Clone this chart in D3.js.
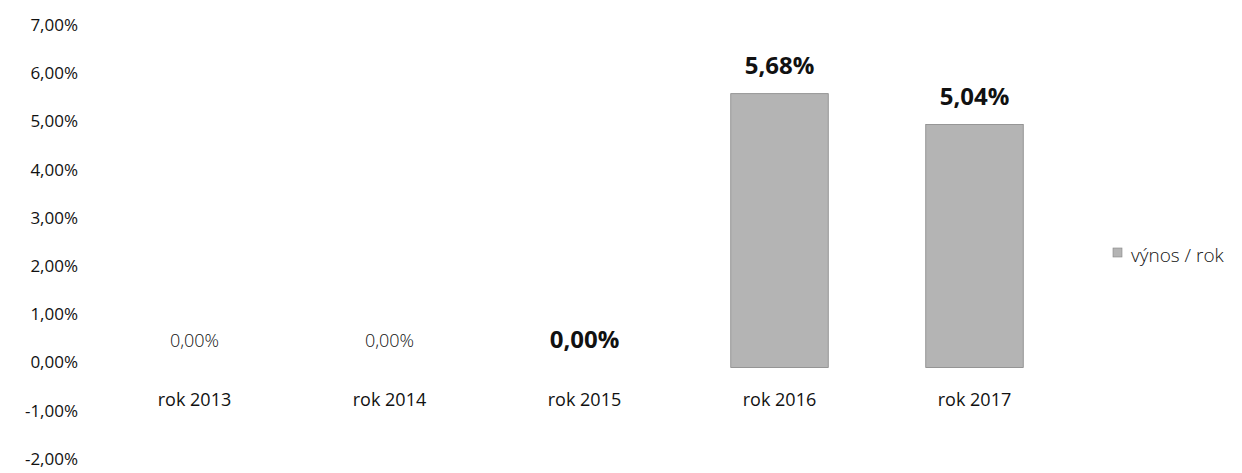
<!DOCTYPE html>
<html lang="cs">
<head>
    <meta charset="UTF-8">
    <script type="text/javascript" src="https://cdn.jsdelivr.net/npm/d3@7/dist/d3.min.js"></script>
    <title>výnos / rok</title>
    <style>
        body { margin: 0; background: #fff; }
        text { font-family: "Open Sans", sans-serif; fill: #111; }
    </style>
</head>
<body>

</body>
<script>

    // data
    let years = ["rok 2013", "rok 2014", "rok 2015", "rok 2016", "rok 2017"];
    let vynos = [0.00, 0.00, 0.00, 5.68, 5.04];
    let boldLabel = [false, false, true, true, true];
    let yTicks = [-2, -1, 0, 1, 2, 3, 4, 5, 6, 7];
    let seriesName = "výnos / rok";

    let width = 1242, height = 473;
    let svg = d3.select("body")
        .append("svg")
        .attr("width", width)
        .attr("height", height)

    let pct = d => d3.format(".2f")(d).replace(".", ",").replace("−", "-") + "%";

    let x = d3.scaleBand()
        .domain(years)
        .range([97, 1072])
        .paddingInner(0.5)
        .paddingOuter(0.25);

    let y = d3.scaleLinear()
        .domain([-2, 7])
        .range([464, 30]);

    // y axis, labels only
    let yAxis = d3.axisLeft(y)
        .tickValues(yTicks)
        .tickSize(0)
        .tickPadding(0)
        .tickFormat(pct);

    let gy = svg.append("g")
        .attr("transform", "translate(78,0)")
        .call(yAxis);
    gy.select(".domain").remove();
    gy.selectAll("text")
        .attr("dy", "0.02em")
        .style("font-size", "17px")
        .style("font-family", "'Open Sans', sans-serif")
        .attr("fill", "#111");

    // bars
    svg.selectAll("rect.bar")
        .data(vynos)
        .join("rect")
        .attr("class", "bar")
        .attr("x", (d, i) => x(years[i]))
        .attr("y", d => y(Math.max(0, d)))
        .attr("width", x.bandwidth())
        .attr("height", d => Math.abs(y(d) - y(0)))
        .attr("fill", "#b4b4b4")
        .attr("stroke", "#858585")
        .attr("stroke-width", 0.8)
        .style("display", d => d === 0 ? "none" : null);

    // value labels
    svg.selectAll("text.val")
        .data(vynos)
        .join("text")
        .attr("class", "val")
        .attr("x", (d, i) => x(years[i]) + x.bandwidth() / 2)
        .attr("y", (d, i) => y(Math.max(0, d)) - (boldLabel[i] ? 20 : 21))
        .attr("text-anchor", "middle")
        .style("font-size", (d, i) => boldLabel[i] ? "24px" : "18px")
        .style("font-weight", (d, i) => boldLabel[i] ? "bold" : "300")
        .text(pct);

    // category labels
    svg.selectAll("text.cat")
        .data(years)
        .join("text")
        .attr("class", "cat")
        .attr("x", d => x(d) + x.bandwidth() / 2)
        .attr("y", 406)
        .attr("text-anchor", "middle")
        .style("font-size", "18px")
        .text(d => d);

    // legend
    let lg = svg.append("g").attr("transform", "translate(1113,248)");
    lg.append("rect")
        .attr("width", 9)
        .attr("height", 9)
        .attr("fill", "#b4b4b4")
        .attr("stroke", "#858585")
        .attr("stroke-width", 0.6);
    lg.append("text")
        .attr("x", 18)
        .attr("y", 14)
        .style("font-size", "19px")
        .style("font-weight", "300")
        .text(seriesName);

</script>
</html>
